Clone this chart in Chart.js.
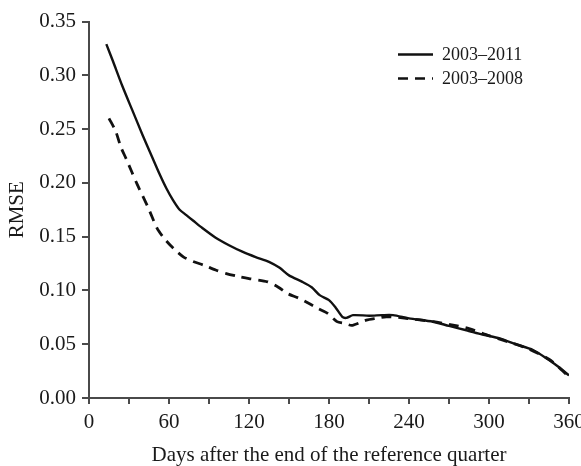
<!DOCTYPE html>
<html>
<head>
<meta charset="utf-8">
<script src="https://cdn.jsdelivr.net/npm/chart.js@4"></script>
<style>
html,body{margin:0;padding:0;background:#fff;}
canvas{display:block;}
</style>
</head>
<body>
<canvas id="c" width="581" height="466"></canvas>
<script>
// ---- data ----
const seriesNames = ['2003\u20132011', '2003\u20132008'];
const days2011 = [13,18,25,33,40,47,53,58,63,68,73,78,85,95,105,115,125,135,143,150,160,167,173,180,185,190,193,198,210,220,228,240,258,270,283,295,308,320,333,345,352,360];
const rmse2011 = [0.329,0.313,0.290,0.266,0.245,0.225,0.208,0.195,0.184,0.175,0.170,0.165,0.158,0.149,0.142,0.136,0.131,0.1266,0.121,0.114,0.108,0.103,0.0956,0.091,0.084,0.0755,0.0745,0.077,0.0765,0.077,0.077,0.074,0.0709,0.067,0.063,0.059,0.0554,0.050,0.0446,0.0353,0.029,0.021];
const days2008 = [15,20,24,28,36,44,51,56,61,66,71,78,86,95,103,112,120,134,142,149,157,164,172,179,186,192,197,203,208,215,223,235,258,272,285,300,315,330,345,352,358];
const rmse2008 = [0.260,0.248,0.233,0.222,0.199,0.178,0.158,0.149,0.142,0.136,0.131,0.127,0.1235,0.119,0.1157,0.113,0.111,0.108,0.103,0.097,0.093,0.0885,0.083,0.0786,0.071,0.0693,0.0675,0.070,0.0724,0.074,0.0755,0.0745,0.071,0.068,0.0645,0.058,0.052,0.0455,0.036,0.029,0.022];
const xTickLabels = [0,60,120,180,240,300,360];
const xTitle = 'Days after the end of the reference quarter';
const yTitle = 'RMSE';

const toPts = (xs, ys) => xs.map((x, i) => ({x: x, y: ys[i]}));
const FONT = "'Liberation Serif', 'Times New Roman', serif";
const AXIS = '#4a4a4a';
const TEXT = '#1a1a1a';

const legendPlugin = {
  id: 'customLegend',
  afterDraw(chart) {
    const ctx = chart.ctx;
    const a = chart.chartArea;
    const x0 = a.right - 171, x1 = a.right - 136, tx = a.right - 127;
    chart.data.datasets.forEach((ds, i) => {
      const y = a.top + 33 + i * 24;
      ctx.save();
      ctx.strokeStyle = ds.borderColor;
      ctx.lineWidth = 2.4;
      ctx.setLineDash(ds.borderDash || []);
      ctx.beginPath();
      ctx.moveTo(x0, y);
      ctx.lineTo(x1, y);
      ctx.stroke();
      ctx.setLineDash([]);
      ctx.fillStyle = TEXT;
      ctx.font = "18px " + FONT;
      ctx.textAlign = 'left';
      ctx.textBaseline = 'middle';
      ctx.fillText(ds.label, tx, y + 1);
      ctx.restore();
    });
  }
};

new Chart(document.getElementById('c'), {
  type: 'line',
  data: {
    datasets: [
      {label: seriesNames[0], data: toPts(days2011, rmse2011), borderColor: '#111', borderWidth: 2.4, pointRadius: 0, tension: 0.25, fill: false},
      {label: seriesNames[1], data: toPts(days2008, rmse2008), borderColor: '#111', borderWidth: 2.8, borderDash: [10, 7], pointRadius: 0, tension: 0.25, fill: false}
    ]
  },
  options: {
    responsive: false,
    animation: false,
    layout: {padding: {left: 0, right: 12, top: 21.5, bottom: 0}},
    plugins: {legend: {display: false}, tooltip: {enabled: false}},
    scales: {
      x: {
        type: 'linear', min: 0, max: 360,
        border: {color: AXIS, width: 2},
        grid: {drawOnChartArea: false, drawTicks: true, tickLength: 6, color: AXIS, lineWidth: 2},
        ticks: {
          stepSize: 30, autoSkip: false, maxRotation: 0, padding: 6,
          color: TEXT, font: {family: FONT, size: 21},
          callback: v => xTickLabels.includes(v) ? String(v) : ''
        },
        title: {display: true, text: xTitle, color: TEXT, font: {family: FONT, size: 21, lineHeight: 1}, padding: {top: 0, bottom: 0}},
        afterFit: s => { s.height = 68; s.paddingLeft = 0; s.paddingRight = 0; }
      },
      y: {
        min: 0, max: 0.35,
        border: {color: AXIS, width: 2},
        grid: {drawOnChartArea: false, drawTicks: true, tickLength: 7, color: AXIS, lineWidth: 2},
        ticks: {
          stepSize: 0.05, padding: 6, color: TEXT, font: {family: FONT, size: 21},
          callback: v => v.toFixed(2)
        },
        title: {display: true, text: yTitle, color: TEXT, font: {family: FONT, size: 21, lineHeight: 1}, padding: {top: 7, bottom: 0}},
        afterFit: s => { s.width = 89; s.paddingTop = 0; s.paddingBottom = 0; }
      }
    }
  },
  plugins: [legendPlugin]
});
</script>
</body>
</html>
